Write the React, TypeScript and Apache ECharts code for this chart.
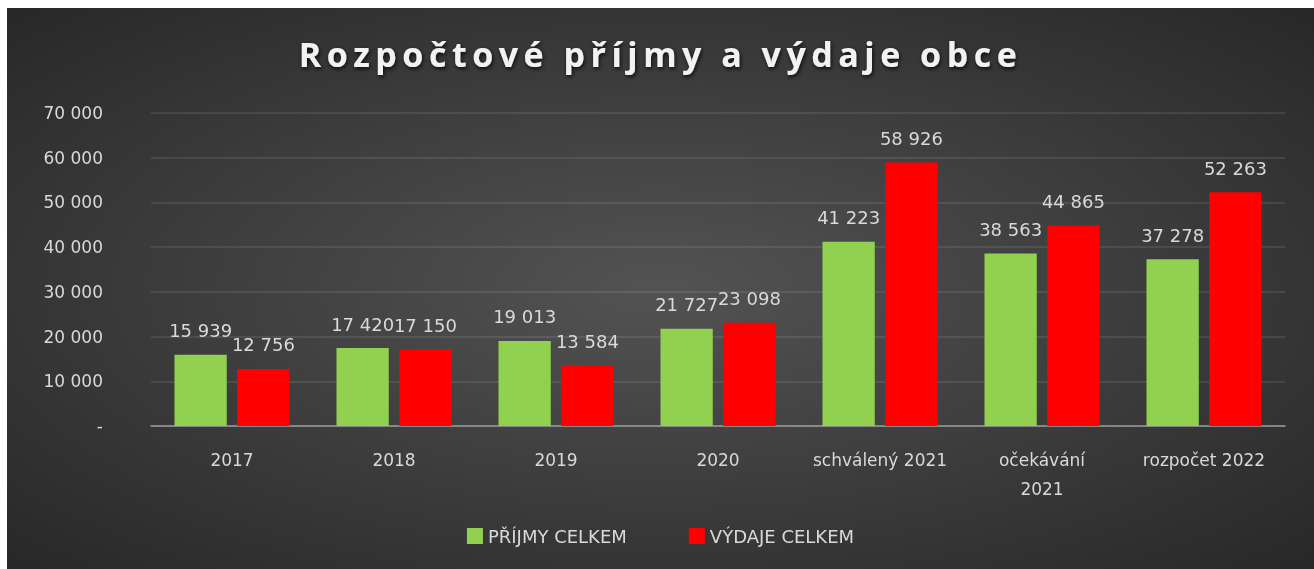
import React, { useEffect, useRef } from "react";
import * as echarts from "echarts";

const categories = ["2017", "2018", "2019", "2020", "schválený 2021", "očekávání\n2021", "rozpočet 2022"];
const prijmy = [15939, 17420, 19013, 21727, 41223, 38563, 37278];
const vydaje = [12756, 17150, 13584, 23098, 58926, 44865, 52263];
const seriesNames = ["PŘÍJMY CELKEM", "VÝDAJE CELKEM"];
const titleText = "Rozpočtové příjmy a výdaje obce";

const fmt = (v: number) => (v === 0 ? "-" : String(Math.round(v)).replace(/\B(?=(\d{3})+(?!\d))/g, " "));

export default function App() {
  const ref = useRef<HTMLDivElement>(null);
  useEffect(() => {
    if (!ref.current) return;
    const chart = echarts.init(ref.current, null, { renderer: "svg" });
    const font = "DejaVu Sans";
    const txt = "#d9d9d9";
    chart.setOption({
      animation: false,
      backgroundColor: {
        type: "radial",
        x: 0.5,
        y: 0.5,
        r: 0.75,
        colorStops: [
          { offset: 0, color: "#535353" },
          { offset: 1, color: "#252525" },
        ],
      },
      title: {
        text: titleText,
        left: "center",
        top: 24,
        textStyle: {
          color: "#f2f2f2",
          fontFamily: "Open Sans",
          fontWeight: "bold",
          fontSize: 34,
          textShadowColor: "rgba(0,0,0,0.8)",
          textShadowBlur: 4,
          textShadowOffsetX: 1,
          textShadowOffsetY: 2,
        },
      },
      legend: {
        bottom: 19,
        left: "center",
        itemWidth: 16,
        itemHeight: 16,
        itemGap: 62,
        icon: "rect",
        textStyle: { color: txt, fontFamily: font, fontSize: 18 },
        data: seriesNames,
      },
      grid: { left: 144, right: 29, top: 105, bottom: 143 },
      xAxis: {
        type: "category",
        data: categories,
        axisLine: { lineStyle: { color: "#9a9a9a", width: 1.5 } },
        axisTick: { show: false },
        axisLabel: { interval: 0, color: txt, fontFamily: font, fontSize: 17, margin: 19, lineHeight: 29 },
      },
      yAxis: {
        type: "value",
        min: 0,
        max: 70000,
        interval: 10000,
        axisLine: { show: false },
        axisTick: { show: false },
        splitLine: { lineStyle: { color: "rgba(255,255,255,0.12)", width: 1.5 } },
        axisLabel: { color: txt, fontFamily: font, fontSize: 17, margin: 48, formatter: fmt },
      },
      series: [
        {
          name: seriesNames[0],
          type: "bar",
          data: prijmy,
          itemStyle: { color: "#92d050" },
          barGap: "20%",
          barCategoryGap: "29%",
          label: { show: true, position: "top", color: txt, fontFamily: font, fontSize: 18, distance: 15, formatter: (p: any) => fmt(p.value) },
        },
        {
          name: seriesNames[1],
          type: "bar",
          data: vydaje,
          itemStyle: { color: "#ff0000" },
          barGap: "20%",
          barCategoryGap: "29%",
          label: { show: true, position: "top", color: txt, fontFamily: font, fontSize: 18, distance: 15, formatter: (p: any) => fmt(p.value) },
        },
      ],
    });
    // widen the title's letter spacing, as in the reference
    const texts = ref.current.querySelectorAll("text");
    texts.forEach((t) => {
      if (t.textContent === titleText) {
        (t as SVGTextElement).style.letterSpacing = "5.5px";
      }
    });
    return () => chart.dispose();
  }, []);
  return <div ref={ref} style={{ position: "fixed", left: 7, top: 8, width: 1307, height: 561 }} />;
}
